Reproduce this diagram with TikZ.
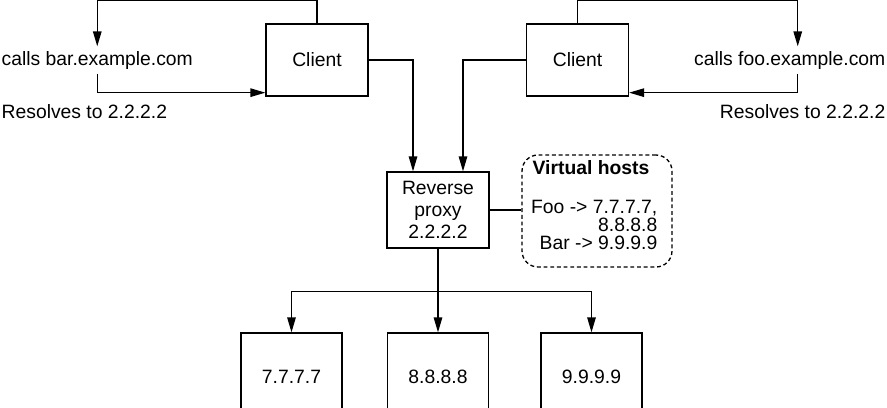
\documentclass[tikz,border=0pt]{standalone}
\usepackage{fontspec}
\setmainfont{Liberation Sans}
\usetikzlibrary{arrows.meta}

\begin{document}
\begin{tikzpicture} [x = 0.02cm, y = -0.02cm, line width = 0.75pt,
    >={Triangle[length=3mm, width=1.7mm]},
    box/.style = {draw, minimum width = 2.04cm, minimum height = 1.44cm,
        font = \fontsize{11}{12.5}\selectfont, align = center},
    txt/.style = {inner xsep = 0.02cm, inner ysep = 0.08cm, font = \fontsize{11}{13}\selectfont}]

    \clip (0,0) rectangle (887,407);

    % clients and the names they call
    \node [box] (clientA) at (317,60) {Client};
    \node [box] (clientB) at (577.5,60) {Client};
    \node [txt, anchor = base west] (callsBar) at (0,65) {calls bar.example.com};
    \node [txt, anchor = base east] (callsFoo) at (887,65) {calls foo.example.com};
    \node [txt, anchor = base west] (resBar) at (0,118) {Resolves to 2.2.2.2};
    \node [txt, anchor = base east] (resFoo) at (887,118) {Resolves to 2.2.2.2};

    % proxy and its table
    \node [box, minimum height = 1.52cm] (proxy) at (438,210) {Reverse\\proxy\\2.2.2.2};
    \node [draw, dashed, dash pattern = on 2.2pt off 1.6pt, rounded corners = 0.32cm,
        minimum width = 3cm, minimum height = 2.24cm] (vhosts) at (597,211) {};
    \node [anchor = base, font = \fontsize{11}{13}\selectfont\bfseries] (vTitle) at (591,174) {Virtual hosts};
    \node [inner sep = 0, anchor = north east, align = right,
        font = \fontsize{11}{10.2}\selectfont] (vList) at (658,200) {Foo -> 7.7.7.7,\\8.8.8.8\\Bar -> 9.9.9.9};

    % backends
    \node [box, minimum width = 2.02cm, minimum height = 1.76cm] (ip7) at (291.5,377) {7.7.7.7};
    \node [box, minimum width = 2.02cm, minimum height = 1.76cm] (ip8) at (438,377) {8.8.8.8};
    \node [box, minimum width = 2.02cm, minimum height = 1.76cm] (ip9) at (591.5,377) {9.9.9.9};

    \draw [->] (clientA.north) -- ++(0,-23) -| (callsBar.north);
    \draw [->] (callsBar.south) |- ([yshift = 0.08cm] clientA.south west);
    \draw [->] (clientA.east) -| ([xshift = -0.5cm] proxy.north);

    \draw [->] (clientB.north) -- ++(0,-23) -| ([xshift = 0.16cm] callsFoo.north);
    \draw [->] ([xshift = 0.16cm] callsFoo.south) |- ([yshift = 0.08cm] clientB.south east);
    \draw [->] (clientB.west) -| ([xshift = 0.5cm] proxy.north);

    \draw (proxy.east) -- (vhosts.west |- proxy.east);

    \draw [->] (proxy.south) -- (ip8.north);
    \draw [->] (proxy.south) -- ++(0,43) -| (ip7.north);
    \draw [->] (proxy.south) -- ++(0,43) -| (ip9.north);

\end{tikzpicture}
\end{document}
